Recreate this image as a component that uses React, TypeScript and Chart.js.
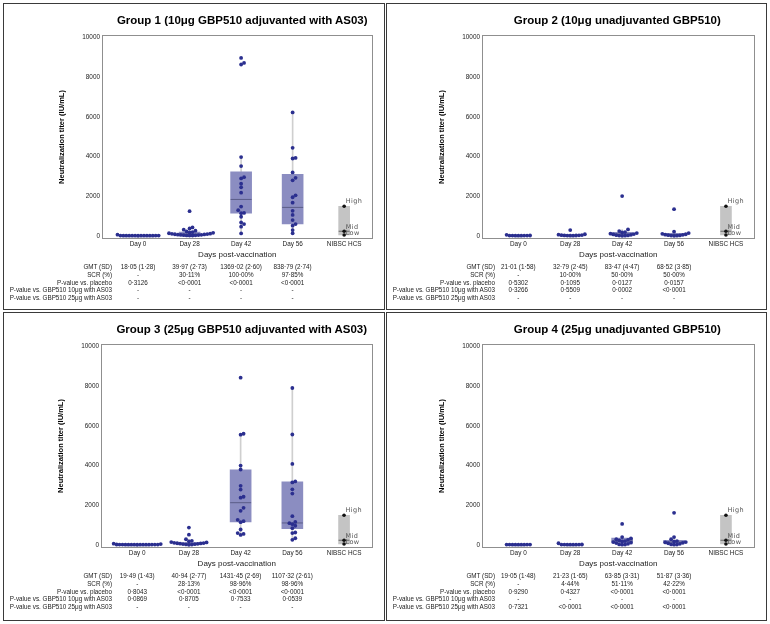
import React, { useEffect, useRef, useState } from "react";
import { Chart, registerables } from "chart.js";
Chart.register(...registerables);

const categories = ["Day 0", "Day 28", "Day 42", "Day 56", "NIBSC HCS"];
const yTickValues = [0, 2000, 4000, 6000, 8000, 10000];
const rowLabels = [
  "GMT (SD)",
  "SCR (%)",
  "P-value vs. placebo",
  "P-value vs. GBP510 10μg with AS03",
  "P-value vs. GBP510 25μg with AS03",
];

const hcsLevels = ["High", "Mid", "Low"];
const hcsValues = [1500, 240, 50];
const hcsRange = [50, 1500];
const hcsMedian = 240;

// Group 1
const g1Title = "Group 1 (10μg GBP510 adjuvanted with AS03)";
const g1Points = [
  [14, 15, 16, 17, 17, 18, 18, 18, 18, 19, 19, 20, 21, 22, 70],
  [20, 25, 30, 35, 40, 50, 55, 60, 70, 80, 90, 100, 110, 120, 140, 160, 180, 200, 230, 270, 320, 380, 430, 1250],
  [130, 470, 600, 680, 970, 1150, 1160, 1300, 1480, 2180, 2450, 2630, 2900, 2960, 3520, 3970, 8630, 8710, 8960],
  [140, 300, 520, 600, 800, 1060, 1270, 1680, 1950, 2050, 2800, 2930, 3200, 3900, 3930, 4440, 6220],
];
const g1Boxes = [
  [10, 16, 18, 20, 30],
  [10, 50, 100, 200, 450],
  [130, 1150, 1840, 3230, 3970],
  [140, 610, 1440, 3110, 6220],
];
const g1Table = [
  ["18·05 (1·28)", "39·97 (2·73)", "1369·02 (2·60)", "838·79 (2·74)"],
  ["-", "30·11%", "100·00%", "97·85%"],
  ["0·3126", "<0·0001", "<0·0001", "<0·0001"],
  ["-", "-", "-", "-"],
  ["-", "-", "-", "-"],
];

// Group 2
const g2Title = "Group 2 (10μg unadjuvanted GBP510)";
const g2Points = [
  [16, 18, 19, 20, 21, 22, 23, 25, 60],
  [15, 18, 20, 25, 30, 35, 40, 50, 70, 90, 300],
  [10, 15, 20, 30, 40, 60, 80, 100, 120, 150, 180, 200, 250, 330, 2010],
  [10, 15, 20, 30, 40, 60, 70, 90, 110, 150, 220, 1350],
];
const g2Boxes = [
  [12, 18, 21, 25, 40],
  [10, 25, 35, 60, 100],
  [10, 40, 100, 180, 330],
  [10, 40, 70, 130, 220],
];
const g2Table = [
  ["21·01 (1·58)", "32·79 (2·45)", "83·47 (4·47)", "68·52 (3·85)"],
  ["-", "10·00%", "50·00%", "50·00%"],
  ["0·5302", "0·1095", "0·0127", "0·0157"],
  ["0·3266", "0·5509", "0·0002", "<0·0001"],
  ["-", "-", "-", "-"],
];

// Group 3
const g3Title = "Group 3 (25μg GBP510 adjuvanted with AS03)";
const g3Points = [
  [14, 15, 16, 16, 17, 18, 18, 19, 19, 20, 20, 21, 22, 23, 25, 50, 70],
  [10, 20, 30, 40, 50, 60, 70, 80, 90, 100, 110, 130, 150, 180, 210, 290, 520, 880],
  [510, 560, 600, 780, 1150, 1200, 1270, 1720, 1870, 2380, 2430, 2790, 2980, 3800, 4000, 5550, 5600, 8420],
  [260, 340, 600, 630, 850, 970, 1050, 1100, 1160, 1450, 2590, 2800, 3150, 3200, 4080, 5560, 7900],
];
const g3Boxes = [
  [10, 16, 19, 22, 60],
  [10, 30, 60, 120, 290],
  [510, 1160, 2130, 3780, 5600],
  [260, 820, 1110, 3180, 7900],
];
const g3Table = [
  ["19·49 (1·43)", "40·94 (2·77)", "1431·45 (2·69)", "1107·32 (2·61)"],
  ["-", "28·13%", "98·96%", "98·96%"],
  ["0·8043", "<0·0001", "<0·0001", "<0·0001"],
  ["0·0869", "0·8705", "0·7533", "0·0539"],
  ["-", "-", "-", "-"],
];

// Group 4
const g4Title = "Group 4 (25μg unadjuvanted GBP510)";
const g4Points = [
  [15, 17, 18, 19, 19, 20, 21, 22, 24],
  [15, 17, 18, 19, 20, 21, 22, 25, 90],
  [15, 20, 30, 60, 100, 120, 150, 180, 200, 230, 260, 290, 330, 400, 1060],
  [15, 20, 30, 60, 90, 110, 130, 150, 170, 200, 290, 400, 1620],
];
const g4Boxes = [
  [12, 17, 19, 21, 30],
  [10, 17, 20, 25, 90],
  [15, 110, 200, 350, 430],
  [15, 100, 150, 230, 420],
];
const g4Table = [
  ["19·05 (1·48)", "21·23 (1·65)", "63·85 (3·31)", "51·87 (3·36)"],
  ["-", "4·44%", "51·11%", "42·22%"],
  ["0·9290", "0·4327", "<0·0001", "<0·0001"],
  ["-", "-", "-", "-"],
  ["0·7321", "<0·0001", "<0·0001", "<0·0001"],
];

const X_MIN = 0.3;
const X_MAX = 5.55;
const Y_MIN = -150;
const Y_MAX = 10115;
const FONT = '"Liberation Sans", Arial, Helvetica, sans-serif';

function swarm(values: number[], cx: number, kx: number, ky: number, d: number) {
  const placed: { px: number; py: number; v: number }[] = [];
  const sorted = [...values].sort((a, b) => a - b);
  for (const v of sorted) {
    const py = v * ky;
    let k = 0;
    for (;;) {
      const step = Math.ceil(k / 2) * (k % 2 === 1 ? 1 : -1);
      const px = step * d;
      if (placed.every((p) => (p.px - px) ** 2 + (p.py - py) ** 2 >= d * d * 0.99)) {
        placed.push({ px, py, v });
        break;
      }
      k++;
    }
  }
  return placed.map((p) => ({ x: cx + p.px / kx, y: p.v }));
}

const framePlugin = {
  id: "frame",
  beforeDatasetsDraw(chart: any) {
    const { ctx, chartArea: a } = chart;
    ctx.save();
    ctx.strokeStyle = "#8f8f8f";
    ctx.lineWidth = 1;
    ctx.strokeRect(
      Math.round(a.left) + 0.5,
      Math.round(a.top) + 0.5,
      Math.round(a.right - a.left) - 1,
      Math.round(a.bottom - a.top) - 1
    );
    ctx.restore();
  },
};

const hcsLabelPlugin = {
  id: "hcsLabels",
  afterDatasetsDraw(chart: any) {
    const { ctx } = chart;
    const x = chart.scales.x;
    const y = chart.scales.y;
    ctx.save();
    ctx.font = '6.5px "DejaVu Sans", sans-serif';
    ctx.fillStyle = "#555";
    ctx.textAlign = "left";
    ctx.textBaseline = "middle";
    (ctx as any).letterSpacing = "0.4px";
    const offsets = [-5, -4, -1.5];
    hcsLevels.forEach((t, i) => {
      ctx.fillText(t, x.getPixelForValue(5) + 1.5, y.getPixelForValue(hcsValues[i]) + offsets[i]);
    });
    ctx.restore();
  },
};

type PanelProps = {
  title: string;
  points: number[][];
  boxes: number[][];
  table: string[][];
  left: number;
  top: number;
  width: number;
  height: number;
  plotLeft: number;
  titleShift: number;
};

function Panel({ title, points, boxes, table, left, top, width, height, plotLeft, titleShift }: PanelProps) {
  const ref = useRef<HTMLCanvasElement>(null);
  const [geom, setGeom] = useState<{ l: number; r: number; c: number[] } | null>(null);
  const W = width - 2;
  const H = 260;
  const plotRight = 374;
  const plotTop = 31;

  useEffect(() => {
    const kx = (plotRight - plotLeft) / (X_MAX - X_MIN);
    const ky = (H - 25 - plotTop) / (Y_MAX - Y_MIN);
    const pts = points.flatMap((vals, i) => swarm(vals, i + 1, kx, ky, 3));
    const datasets: any[] = [
      {
        type: "scatter",
        data: hcsValues.map((v) => ({ x: 5, y: v })),
        pointRadius: 1.8,
        pointBackgroundColor: "#111",
        pointBorderWidth: 0,
        order: 1,
      },
      {
        type: "scatter",
        data: pts,
        pointRadius: 1.9,
        pointBackgroundColor: "#2b2f8f",
        pointBorderWidth: 0,
        order: 2,
      },
      {
        type: "scatter",
        data: boxes.map((b, i) => ({ x: i + 1, y: b[2] })),
        pointStyle: "line",
        pointRadius: 10.5,
        pointBorderColor: "#5b5d88",
        pointBorderWidth: 1,
        order: 3,
      },
      {
        type: "scatter",
        data: [{ x: 5, y: hcsMedian }],
        pointStyle: "line",
        pointRadius: 5.5,
        pointBorderColor: "#666",
        pointBorderWidth: 1,
        order: 3,
      },
      {
        type: "bar",
        data: boxes.map((b, i) => ({ x: i + 1, y: [b[1], b[3]] })),
        barThickness: 21,
        backgroundColor: "#8b8dc1",
        borderWidth: 0,
        grouped: false,
        order: 4,
      },
      {
        type: "bar",
        data: [{ x: 5, y: hcsRange }],
        barThickness: 11,
        backgroundColor: "#c4c4c4",
        borderWidth: 0,
        grouped: false,
        order: 4,
      },
      {
        type: "bar",
        data: boxes.map((b, i) => ({ x: i + 1, y: [b[0], b[4]] })),
        barThickness: 1,
        backgroundColor: "#cfcfcf",
        borderWidth: 0,
        grouped: false,
        order: 5,
      },
    ];
    const chart = new Chart(ref.current as HTMLCanvasElement, {
      type: "scatter",
      data: { datasets },
      options: {
        animation: false,
        responsive: false,
        maintainAspectRatio: false,
        devicePixelRatio: 1,
        events: [],
        layout: { padding: { left: 0, right: W - plotRight, top: plotTop, bottom: 0 } },
        plugins: { legend: { display: false }, tooltip: { enabled: false }, title: { display: false } },
        scales: {
          x: {
            type: "linear",
            min: X_MIN,
            max: X_MAX,
            offset: false,
            grid: { display: false, drawTicks: false },
            border: { display: false },
            afterBuildTicks: (a: any) => {
              a.ticks = categories.map((_, i) => ({ value: i + 1 }));
            },
            afterFit: (s: any) => {
              s.height = 25;
            },
            ticks: {
              autoSkip: false,
              maxRotation: 0,
              padding: 1.5,
              color: "#222",
              font: { family: FONT, size: 6.4 },
              callback: (v: any) => categories[Math.round(Number(v)) - 1] ?? "",
            },
            title: {
              display: true,
              text: "Days post-vaccination",
              color: "#222",
              font: { family: FONT, size: 8 },
              padding: { top: 0, bottom: 4 },
            },
          },
          y: {
            type: "linear",
            min: Y_MIN,
            max: Y_MAX,
            grid: { display: false, drawTicks: false },
            border: { display: false },
            afterBuildTicks: (a: any) => {
              a.ticks = yTickValues.map((v) => ({ value: v }));
            },
            afterFit: (s: any) => {
              s.width = plotLeft;
            },
            ticks: {
              padding: 2,
              color: "#222",
              font: { family: FONT, size: 6.4 },
              callback: (v: any) => String(v),
            },
            title: {
              display: true,
              text: "Neutralization titer (IU/mL)",
              color: "#000",
              font: { family: FONT, size: 7.5, weight: "bold" },
              padding: { top: plotLeft - 44.5, bottom: 0 },
            },
          },
        },
      } as any,
      plugins: [framePlugin, hcsLabelPlugin],
    });
    const xs = chart.scales.x;
    setGeom({
      l: chart.chartArea.left,
      r: chart.chartArea.right,
      c: [1, 2, 3, 4].map((v) => xs.getPixelForValue(v)),
    });
    return () => chart.destroy();
  }, []);

  const rowStart = 263;
  const rowStep = 7.75;

  return (
    <div
      style={{
        position: "absolute",
        left,
        top,
        width,
        height,
        border: "1px solid #3a3a3a",
        boxSizing: "border-box",
        background: "#fff",
        overflow: "hidden",
      }}
    >
      <canvas ref={ref} width={W} height={H} style={{ position: "absolute", left: 0, top: 0, width: W, height: H }} />
      {geom && (
        <div
          style={{
            position: "absolute",
            left: geom.l + titleShift,
            width: geom.r - geom.l,
            top: 9.5,
            height: 14,
            lineHeight: "14px",
            textAlign: "center",
            whiteSpace: "nowrap",
            font: `bold 11.5px ${FONT}`,
            color: "#000",
          }}
        >
          {title}
        </div>
      )}
      {geom &&
        rowLabels.map((lab, r) => (
          <React.Fragment key={r}>
            <div
              style={{
                position: "absolute",
                left: 0,
                width: 108,
                top: rowStart + r * rowStep - 4,
                height: 8,
                lineHeight: "8px",
                textAlign: "right",
                whiteSpace: "nowrap",
                font: `6.3px ${FONT}`,
                color: "#222",
              }}
            >
              {lab}
            </div>
            {table[r].map((cell, c) => (
              <div
                key={c}
                style={{
                  position: "absolute",
                  left: geom.c[c] - 40,
                  width: 80,
                  top: rowStart + r * rowStep - 4,
                  height: 8,
                  lineHeight: "8px",
                  textAlign: "center",
                  whiteSpace: "nowrap",
                  font: `6.3px ${FONT}`,
                  color: "#222",
                }}
              >
                {cell}
              </div>
            ))}
          </React.Fragment>
        ))}
    </div>
  );
}

export default function App() {
  return (
    <div style={{ position: "absolute", left: 0, top: 0, width: 770, height: 624, background: "#fff" }}>
      <Panel title={g1Title} points={g1Points} boxes={g1Boxes} table={g1Table} left={3} top={3} width={382} height={307} plotLeft={98} titleShift={5} />
      <Panel title={g2Title} points={g2Points} boxes={g2Boxes} table={g2Table} left={386} top={3} width={381} height={307} plotLeft={95} titleShift={-1} />
      <Panel title={g3Title} points={g3Points} boxes={g3Boxes} table={g3Table} left={3} top={312} width={382} height={309} plotLeft={97} titleShift={5} />
      <Panel title={g4Title} points={g4Points} boxes={g4Boxes} table={g4Table} left={386} top={312} width={381} height={309} plotLeft={95} titleShift={-1} />
    </div>
  );
}
